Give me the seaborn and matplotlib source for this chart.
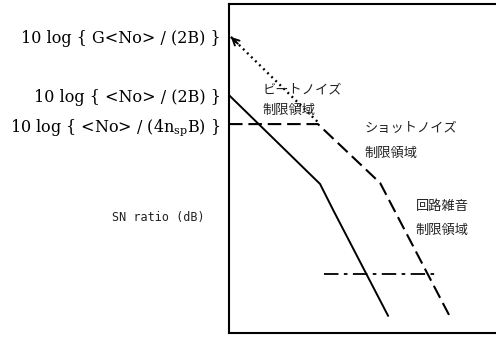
import matplotlib
matplotlib.use("Agg")
import matplotlib.pyplot as plt
import pandas as pd
import seaborn as sns

# Noise-limited SN ratio regimes (schematic, arbitrary units 0-100)
total_x = [0.0, 34.1, 39.0, 59.6]
total_y = [72.3, 45.3, 37.4, 5.2]

shot_x = [0.0, 33.3, 56.6, 82.4]
shot_y = [63.5, 63.5, 45.6, 5.5]

beat_x = [0.7, 33.3]
beat_y = [90.0, 64.1]

circuit_x = [35.6, 78.3]
circuit_y = [17.9, 17.9]

tick_values = [90.0, 72.3, 63.5]
tick_labels = [
    r"10 log { G<No> / (2B) }",
    r"10 log { <No> / (2B) }",
    r"10 log { <No> / (4n$_{\mathrm{sp}}$B) }",
]

region_labels = ["ビートノイズ", "制限領域", "ショットノイズ", "制限領域", "回路雑音", "制限領域"]
region_x = [12.7, 12.7, 50.9, 50.9, 70.0, 70.0]
region_y = [73.9, 67.8, 62.3, 54.7, 38.3, 31.3]

sns.set_theme(style="white")
plt.rcParams["font.family"] = ["DejaVu Serif"]
plt.rcParams["mathtext.fontset"] = "dejavuserif"

fig = plt.figure(figsize=(4.96, 3.39), dpi=100)
ax = fig.add_axes([229 / 496, 6 / 339, 1 - 229 / 496, 329 / 339])

def frame(xs, ys):
    return pd.DataFrame({"x": xs, "y": ys})

sns.lineplot(data=frame(total_x, total_y), x="x", y="y", sort=False,
             color="black", linewidth=1.4, ax=ax)
sns.lineplot(data=frame(shot_x, shot_y), x="x", y="y", sort=False,
             color="black", linewidth=1.5, linestyle=(0, (6.5, 2.8)), ax=ax)
sns.lineplot(data=frame(beat_x, beat_y), x="x", y="y", sort=False,
             color="black", linewidth=1.7, linestyle=(0, (0.8, 1.6)), ax=ax)
sns.lineplot(data=frame(circuit_x, circuit_y), x="x", y="y", sort=False,
             color="black", linewidth=1.3, linestyle=(0, (8, 3, 2, 3)), ax=ax)

# arrowhead at the upper end of the beat-noise line
dx = (beat_x[1] - beat_x[0]) * 0.08
dy = (beat_y[1] - beat_y[0]) * 0.08
ax.annotate("", xy=(beat_x[0], beat_y[0]), xytext=(beat_x[0] + dx, beat_y[0] + dy),
            arrowprops=dict(arrowstyle="->", color="black", lw=1.4,
                            mutation_scale=12, shrinkA=0, shrinkB=0))

for label, x, y in zip(region_labels, region_x, region_y):
    ax.text(x, y, label, ha="left", va="center", fontsize=9.5, color="#222222",
            family=["Noto Sans CJK JP", "DejaVu Sans"])

ax.set_xlim(0, 100)
ax.set_ylim(0, 100)
ax.set_xticks([])
ax.set_yticks(tick_values)
ax.set_yticklabels(tick_labels, fontsize=11.5)
ax.tick_params(axis="y", length=0, pad=6, colors="black")
ax.set_xlabel("")
ax.set_ylabel("SN ratio (dB)", rotation=0, ha="right", va="center",
              fontsize=8.5, family=["DejaVu Sans Mono"], color="#222222")
ax.yaxis.set_label_coords(-0.09, 0.35)

for side in ["left", "top", "bottom"]:
    ax.spines[side].set_color("black")
    ax.spines[side].set_linewidth(1.5)
ax.spines["right"].set_visible(False)

fig.savefig("out.png", dpi=100)
